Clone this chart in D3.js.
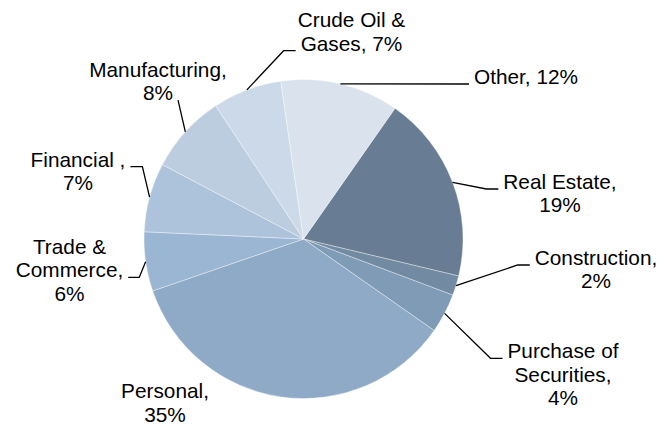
<!DOCTYPE html>
<html>
<head>
<meta charset="utf-8">
<script src="https://cdn.jsdelivr.net/npm/d3@7"></script>
<style>
  html, body { margin: 0; padding: 0; background: #fff; }
  svg { display: block; }
</style>
</head>
<body>
<script>
// chart data
const categories = ["Real Estate", "Construction", "Purchase of Securities", "Personal",
    "Trade & Commerce", "Financial ", "Manufacturing", "Crude Oil & Gases", "Other"];
const values = [19, 2, 4, 35, 6, 7, 8, 7, 12];
// label text, {v} is swapped for the value
const labelTemplates = ["Real Estate,\n{v}", "Construction,\n{v}", "Purchase of\nSecurities,\n{v}",
    "Personal,\n{v}", "Trade &\nCommerce,\n{v}", "Financial ,\n{v}", "Manufacturing,\n{v}",
    "Crude Oil &\nGases, {v}", "Other, {v}"];
const colors = ["#687d93", "#728aa2", "#7f9bb6", "#8eaac7", "#9bb6d3",
    "#adc3dc", "#bccde0", "#cbd9e8", "#d9e2ed"];

// label placement (center x, first baseline, which line the leader meets, side, elbow length)
const labelLayout = [
    { x: 560, y: 189, line: 0, side: "left", elbow: 12 },
    { x: 596, y: 265, line: 0, side: "left", elbow: 12 },
    { x: 563, y: 358.3, line: 0, side: "left", elbow: 12 },
    { x: 165, y: 398.3, line: null },
    { x: 69.5, y: 254, line: 1, side: "right", elbow: 11 },
    { x: 78, y: 166.7, line: 0, side: "right", elbow: 12 },
    { x: 158, y: 76.7, line: 1, side: "right", elbow: 0 },
    { x: 351.5, y: 27.3, line: 1, side: "left", elbow: 12 },
    { x: 526, y: 84, line: 0, side: "left", elbow: 0 }
];

function main() {
    const width = 661;
    const height = 426;
    const cx = 303.5, cy = 239, radius = 159.5;
    const lineH = 23.4;
    const startDeg = 35;

    const svg = d3.select("body").append("svg")
        .attr("width", width)
        .attr("height", height)
        .style("font", "20.8px 'Liberation Sans', Arial, sans-serif");

    const data = categories.map((c, i) => ({ name: c, value: values[i], idx: i }));

    const pie = d3.pie()
        .sort(null)
        .value(d => d.value)
        .startAngle(startDeg * Math.PI / 180)
        .endAngle(startDeg * Math.PI / 180 + 2 * Math.PI);

    const arc = d3.arc().innerRadius(0).outerRadius(radius);
    const arcs = pie(data);

    const g = svg.append("g").attr("transform", `translate(${cx},${cy})`);

    g.selectAll("path")
        .data(arcs)
        .join("path")
        .attr("d", arc)
        .attr("fill", d => colors[d.data.idx])
        .attr("stroke", "#fff")
        .attr("stroke-opacity", 0.6)
        .attr("stroke-width", 0.6);

    // labels
    const labels = svg.append("g");
    arcs.forEach(a => {
        const i = a.data.idx;
        const lay = labelLayout[i];
        const lines = labelTemplates[i].replace("{v}", `${a.data.value}%`).split("\n");

        const text = labels.append("text")
            .attr("text-anchor", "middle")
            .attr("fill", "#000");
        const spans = lines.map((t, k) => text.append("tspan")
            .attr("x", lay.x)
            .attr("y", lay.y + k * lineH)
            .text(t));

        if (lay.line === null) return;

        // leader line from the slice edge at its mid angle to the label
        const mid = (a.startAngle + a.endAngle) / 2;
        const p0 = [cx + radius * Math.sin(mid), cy - radius * Math.cos(mid)];
        const w = spans[lay.line].node().getComputedTextLength();
        const ly = lay.y + lay.line * lineH;
        const gap = 5;
        const end = lay.side === "left"
            ? [lay.x - w / 2 - gap, ly]
            : [lay.x + w / 2 + gap, ly];
        const elbow = lay.side === "left"
            ? [end[0] - lay.elbow, ly]
            : [end[0] + lay.elbow, ly];

        labels.append("path")
            .attr("d", d3.line()([p0, elbow, end]))
            .attr("fill", "none")
            .attr("stroke", "#000")
            .attr("stroke-width", 1.3);
    });
}

addEventListener('DOMContentLoaded', main);
</script>
</body>
</html>
